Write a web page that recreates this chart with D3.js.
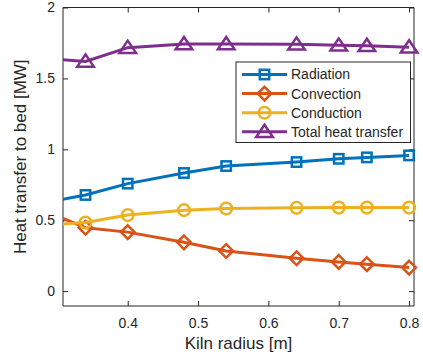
<!DOCTYPE html>
<html><head><meta charset="utf-8">
<script src="https://cdn.jsdelivr.net/npm/d3@7"></script>
<style>
body{margin:0;background:#fff;}
text{font-family:"Liberation Sans",Arial,Helvetica,sans-serif;fill:#262626;}
</style></head>
<body><svg id="c" width="423" height="363"></svg>
<script>
const radius = [0.30, 0.34, 0.40, 0.48, 0.54, 0.64, 0.70, 0.74, 0.80];
const radiation = [0.64, 0.678, 0.758, 0.833, 0.882, 0.910, 0.933, 0.943, 0.957];
const convection = [0.53, 0.447, 0.416, 0.344, 0.283, 0.232, 0.206, 0.190, 0.166];
const conduction = [0.47, 0.484, 0.536, 0.571, 0.582, 0.587, 0.589, 0.589, 0.589];
const total = [1.635, 1.620, 1.717, 1.743, 1.743, 1.740, 1.733, 1.730, 1.720];
const seriesNames = ["Radiation", "Convection", "Conduction", "Total heat transfer"];
const xTicks = [0.4, 0.5, 0.6, 0.7, 0.8];
const yTicks = [0, 0.5, 1, 1.5, 2];
const xLabel = "Kiln radius [m]";
const yLabel = "Heat transfer to bed [MW]";

const colors = ["#0072BD", "#D95319", "#EDB120", "#7E2F8E"];
const markers = ["square", "diamond", "circle", "triangle"];
const seriesVals = [radiation, convection, conduction, total];

const L = 63, R = 414, T = 7.5, B = 306;
const x = d3.scaleLinear().domain([0.308, 0.807]).range([L, R]);
const y = d3.scaleLinear().domain([-0.105, 2]).range([B, T]);

const svg = d3.select("#c");
svg.append("defs").append("clipPath").attr("id", "clip")
  .append("rect").attr("x", L).attr("y", T).attr("width", R - L).attr("height", B - T);

const axisCol = "#262626";
const gx = svg.append("g").attr("transform", `translate(0,${B})`)
  .call(d3.axisBottom(x).tickValues(xTicks).tickSize(-5).tickPadding(12).tickFormat(d3.format(".1f")));
const gxt = svg.append("g").attr("transform", `translate(0,${T})`)
  .call(d3.axisTop(x).tickValues(xTicks).tickSize(-5).tickFormat(""));
const gy = svg.append("g").attr("transform", `translate(${L},0)`)
  .call(d3.axisLeft(y).tickValues(yTicks).tickSize(-5).tickPadding(8).tickFormat(d => d3.format("")(d)));
const gyr = svg.append("g").attr("transform", `translate(${R},0)`)
  .call(d3.axisRight(y).tickValues(yTicks).tickSize(-5).tickFormat(""));
[gx, gxt, gy, gyr].forEach(g => {
  g.select(".domain").attr("stroke", axisCol).attr("stroke-width", 1);
  g.selectAll(".tick line").attr("stroke", axisCol).attr("stroke-width", 1);
  g.selectAll("text").attr("font-size", 14).attr("fill", axisCol)
    .style("font-family", '"Liberation Sans",Arial,sans-serif');
});
gx.selectAll(".domain").attr("d", `M${L},0H${R}`);
gxt.selectAll(".domain").attr("d", `M${L},0H${R}`);
gy.selectAll(".domain").attr("d", `M0,${T}V${B}`);
gyr.selectAll(".domain").attr("d", `M0,${T}V${B}`);

svg.append("text").attr("x", (L + R) / 2).attr("y", 349).attr("text-anchor", "middle")
  .attr("font-size", 17).text(xLabel);
svg.append("text").attr("transform", `translate(26,${(T + B) / 2}) rotate(-90)`)
  .attr("text-anchor", "middle").attr("font-size", 17).text(yLabel);

function drawMarker(g, type, cx, cy, col) {
  const sw = 2.5;
  if (type === "square") {
    g.append("rect").attr("x", cx - 4.7).attr("y", cy - 4.7).attr("width", 9.4).attr("height", 9.4)
      .attr("fill", "none").attr("stroke", col).attr("stroke-width", sw);
  } else if (type === "diamond") {
    const r = 6.8;
    g.append("path").attr("d", `M${cx},${cy - r}L${cx + r},${cy}L${cx},${cy + r}L${cx - r},${cy}Z`)
      .attr("fill", "none").attr("stroke", col).attr("stroke-width", sw);
  } else if (type === "circle") {
    g.append("circle").attr("cx", cx).attr("cy", cy).attr("r", 5.8)
      .attr("fill", "none").attr("stroke", col).attr("stroke-width", sw);
  } else {
    const h = 7, w = 8.3;
    g.append("path").attr("d", `M${cx},${cy - h}L${cx + w},${cy + h * 0.75}L${cx - w},${cy + h * 0.75}Z`)
      .attr("fill", "none").attr("stroke", col).attr("stroke-width", sw).attr("stroke-linejoin", "miter");
  }
}

const line = d3.line().x(d => x(d[0])).y(d => y(d[1]));
seriesVals.forEach((vals, i) => {
  const pts = radius.map((r, k) => [r, vals[k]]);
  svg.append("path").datum(pts).attr("d", line).attr("clip-path", "url(#clip)")
    .attr("fill", "none").attr("stroke", colors[i]).attr("stroke-width", 3);
  const g = svg.append("g");
  pts.forEach(p => {
    if (p[0] >= x.domain()[0]) drawMarker(g, markers[i], x(p[0]), y(p[1]), colors[i]);
  });
});

const lg = svg.append("g");
lg.append("rect").attr("x", 236).attr("y", 62).attr("width", 174.5).attr("height", 80.5)
  .attr("fill", "#fff").attr("stroke", axisCol).attr("stroke-width", 1);
seriesNames.forEach((name, i) => {
  const yy = 74.5 + i * 19.1;
  lg.append("line").attr("x1", 242).attr("x2", 287).attr("y1", yy).attr("y2", yy)
    .attr("stroke", colors[i]).attr("stroke-width", 3);
  drawMarker(lg, markers[i], 264.5, yy, colors[i]);
  lg.append("text").attr("x", 291).attr("y", yy).attr("dy", "0.35em").attr("font-size", 14).text(name);
});
</script></body></html>
